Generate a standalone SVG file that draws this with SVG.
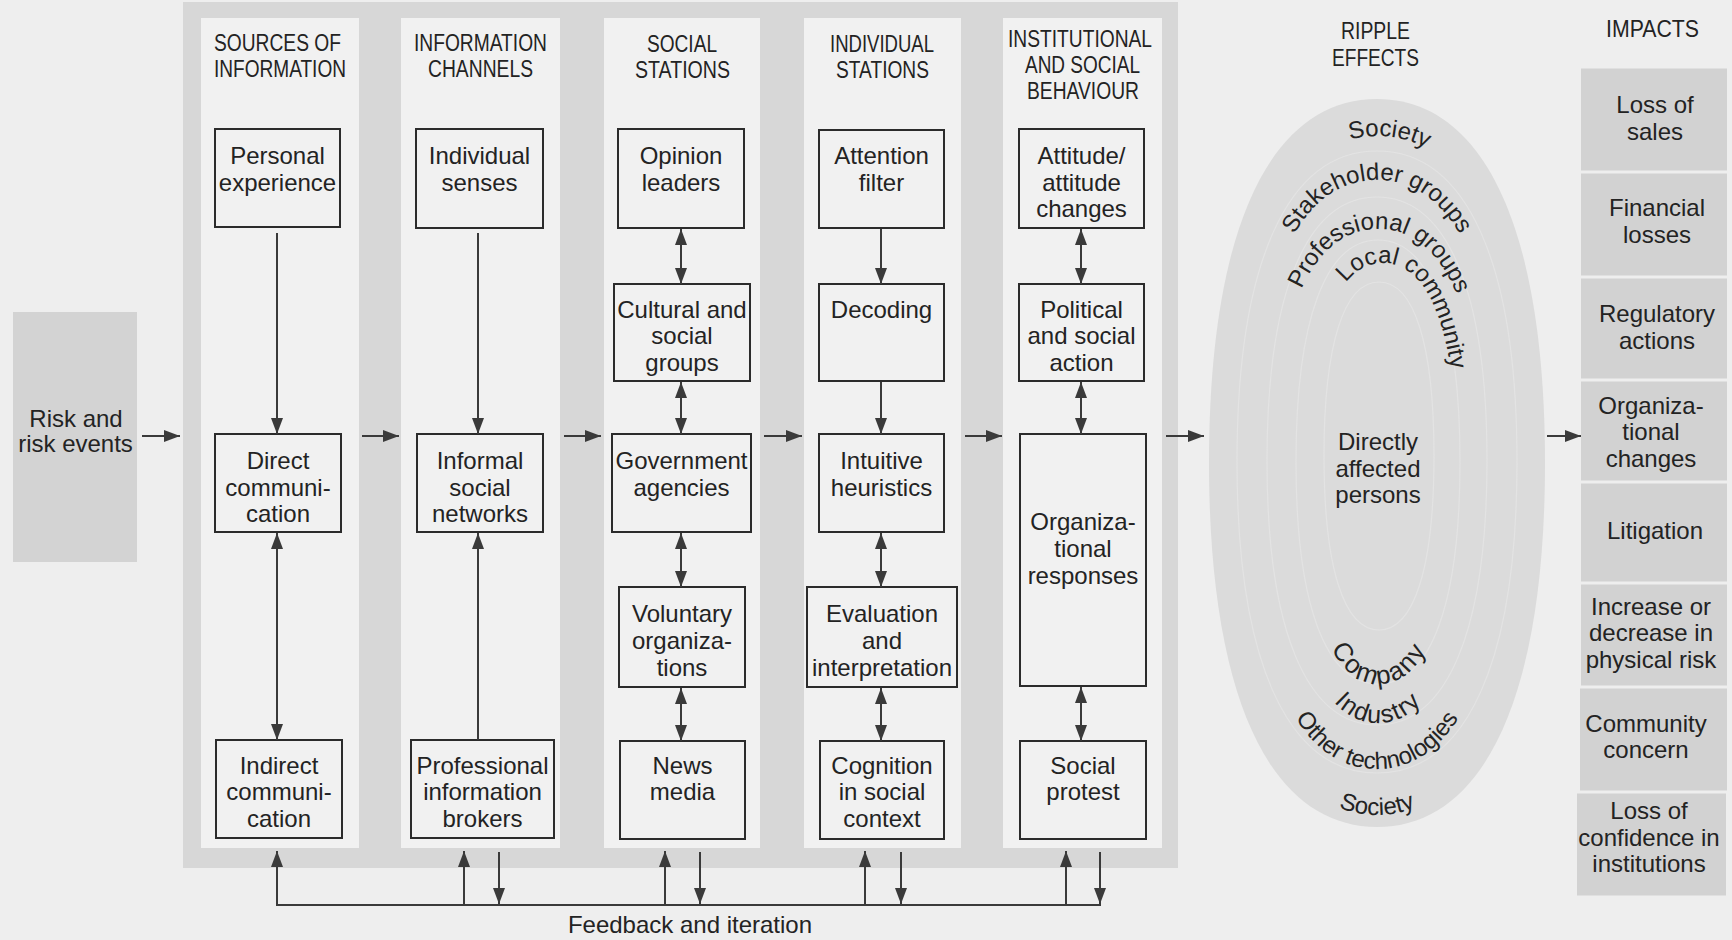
<svg xmlns="http://www.w3.org/2000/svg" xmlns:xlink="http://www.w3.org/1999/xlink" width="1732" height="940" viewBox="0 0 1732 940">
  <style>
    text { font-family: "Liberation Sans", Arial, Helvetica, sans-serif; fill: #232323; }
    .t { font-size: 24px; text-anchor: middle; }
    .h { font-size: 23px; text-anchor: middle; }
    .rt { font-size: 24px; }
    .box { fill: none; stroke: #2b2b2b; stroke-width: 2; }
    .conn { stroke: #3a3a3a; stroke-width: 2; fill: none; }
    .one { marker-end: url(#ah); }
    .two { marker-start: url(#ah); marker-end: url(#ah); }
    .ring { fill: none; stroke: #e3e3e3; stroke-width: 1.2; }
    .imp { fill: #d2d2d2; }
  </style>
  <defs>
    <marker id="ah" markerUnits="userSpaceOnUse" viewBox="0 0 16 12" markerWidth="16" markerHeight="12" refX="16" refY="6" orient="auto-start-reverse">
      <path d="M0,0 L16,6 L0,12 z" fill="#3a3a3a"/>
    </marker>
    <!-- baselines for the curved ring labels (rounded, slightly squarish ovals) -->
    <path id="p-soc-top" d="M1227,463 C1227,253.7 1281,136 1377,136 C1473,136 1527,253.7 1527,463"/>
    <path id="p-stake" d="M1252,463 C1252,281.9 1297,180 1377,180 C1457,180 1502,281.9 1502,463"/>
    <path id="p-prof" d="M1274,463 C1274,313.9 1311.5,229 1378,229 C1444.5,229 1482,313.9 1482,463"/>
    <path id="p-local" d="M1309,463 C1309,336.3 1335.6,263 1383,263 C1430.4,263 1457,336.3 1457,463"/>
    <path id="p-company" d="M1301,463 C1301,603.8 1329.1,684 1379,684 C1428.9,684 1457,603.8 1457,463"/>
    <path id="p-industry" d="M1283,463 C1283,629.4 1317.2,723 1378,723 C1438.8,723 1473,629.4 1473,463"/>
    <path id="p-other" d="M1247,463 C1247,658.8 1293.8,769 1377,769 C1460.2,769 1507,658.8 1507,463"/>
    <path id="p-soc-bot" d="M1227,463 C1227,688.3 1281,815 1377,815 C1473,815 1527,688.3 1527,463"/>
  </defs>

  <!-- page -->
  <rect x="0" y="0" width="1732" height="940" fill="#eeeeee"/>

  <!-- grey frame with the five column strips -->
  <g id="stage-panel">
    <rect x="183" y="2" width="995" height="866" fill="#d7d7d7"/>
    <rect x="201" y="18" width="158" height="830" fill="#f1f1f1"/>
    <rect x="401" y="18" width="159" height="830" fill="#f1f1f1"/>
    <rect x="604" y="18" width="156" height="830" fill="#f1f1f1"/>
    <rect x="804" y="18" width="157" height="830" fill="#f1f1f1"/>
    <rect x="1003" y="18" width="159" height="830" fill="#f1f1f1"/>
  </g>

  <!-- column headings -->
  <g id="headings">
    <text class="h" x="277.5" y="51" textLength="127" lengthAdjust="spacingAndGlyphs">SOURCES OF</text>
    <text class="h" x="280" y="77" textLength="132" lengthAdjust="spacingAndGlyphs">INFORMATION</text>
    <text class="h" x="480.5" y="51" textLength="133" lengthAdjust="spacingAndGlyphs">INFORMATION</text>
    <text class="h" x="480.5" y="77" textLength="105" lengthAdjust="spacingAndGlyphs">CHANNELS</text>
    <text class="h" x="682" y="52" textLength="70" lengthAdjust="spacingAndGlyphs">SOCIAL</text>
    <text class="h" x="682.5" y="78" textLength="95" lengthAdjust="spacingAndGlyphs">STATIONS</text>
    <text class="h" x="882" y="52" textLength="104" lengthAdjust="spacingAndGlyphs">INDIVIDUAL</text>
    <text class="h" x="882.5" y="78" textLength="93" lengthAdjust="spacingAndGlyphs">STATIONS</text>
    <text class="h" x="1080" y="47" textLength="144" lengthAdjust="spacingAndGlyphs">INSTITUTIONAL</text>
    <text class="h" x="1082.5" y="73" textLength="115" lengthAdjust="spacingAndGlyphs">AND SOCIAL</text>
    <text class="h" x="1083" y="99" textLength="112" lengthAdjust="spacingAndGlyphs">BEHAVIOUR</text>
    <text class="h" x="1375.5" y="39" textLength="69" lengthAdjust="spacingAndGlyphs">RIPPLE</text>
    <text class="h" x="1375.5" y="66" textLength="87" lengthAdjust="spacingAndGlyphs">EFFECTS</text>
    <text class="h" x="1652.5" y="37" textLength="93" lengthAdjust="spacingAndGlyphs">IMPACTS</text>
  </g>

  <g id="risk-events">
    <rect x="13" y="312" width="124" height="250" fill="#d3d3d3"/>
    <text class="t" x="76" y="427">Risk and</text>
    <text class="t" x="75.5" y="452">risk events</text>
  </g>

  <!-- sources of information -->
  <g id="personal-experience">
    <rect class="box" x="215" y="129" width="125" height="98"/>
    <text class="t" x="277.5" y="164">Personal</text>
    <text class="t" x="277.5" y="191">experience</text>
  </g>
  <g id="direct-communication">
    <rect class="box" x="215" y="434" width="126" height="98"/>
    <text class="t" x="278" y="469">Direct</text>
    <text class="t" x="278" y="496">communi-</text>
    <text class="t" x="278" y="522">cation</text>
  </g>
  <g id="indirect-communication">
    <rect class="box" x="216" y="740" width="126" height="98"/>
    <text class="t" x="279" y="774">Indirect</text>
    <text class="t" x="279" y="800">communi-</text>
    <text class="t" x="279" y="827">cation</text>
  </g>

  <!-- information channels -->
  <g id="individual-senses">
    <rect class="box" x="416" y="129" width="127" height="99"/>
    <text class="t" x="479.5" y="164">Individual</text>
    <text class="t" x="479.5" y="191">senses</text>
  </g>
  <g id="informal-social-networks">
    <rect class="box" x="417" y="434" width="126" height="98"/>
    <text class="t" x="480" y="469">Informal</text>
    <text class="t" x="480" y="496">social</text>
    <text class="t" x="480" y="522">networks</text>
  </g>
  <g id="professional-information-brokers">
    <rect class="box" x="411" y="740" width="143" height="98"/>
    <text class="t" x="482.5" y="774">Professional</text>
    <text class="t" x="482.5" y="800">information</text>
    <text class="t" x="482.5" y="827">brokers</text>
  </g>

  <!-- social stations -->
  <g id="opinion-leaders">
    <rect class="box" x="618" y="129" width="126" height="99"/>
    <text class="t" x="681" y="164">Opinion</text>
    <text class="t" x="681" y="191">leaders</text>
  </g>
  <g id="cultural-social-groups">
    <rect class="box" x="614" y="284" width="136" height="97"/>
    <text class="t" x="682" y="318">Cultural and</text>
    <text class="t" x="682" y="344">social</text>
    <text class="t" x="682" y="371">groups</text>
  </g>
  <g id="government-agencies">
    <rect class="box" x="612" y="434" width="139" height="98"/>
    <text class="t" x="681.5" y="469">Government</text>
    <text class="t" x="681.5" y="496">agencies</text>
  </g>
  <g id="voluntary-organizations">
    <rect class="box" x="619" y="587" width="126" height="100"/>
    <text class="t" x="682" y="622">Voluntary</text>
    <text class="t" x="682" y="649">organiza-</text>
    <text class="t" x="682" y="676">tions</text>
  </g>
  <g id="news-media">
    <rect class="box" x="620" y="741" width="125" height="98"/>
    <text class="t" x="682.5" y="774">News</text>
    <text class="t" x="682.5" y="800">media</text>
  </g>

  <!-- individual stations -->
  <g id="attention-filter">
    <rect class="box" x="819" y="130" width="125" height="98"/>
    <text class="t" x="881.5" y="164">Attention</text>
    <text class="t" x="881.5" y="191">filter</text>
  </g>
  <g id="decoding">
    <rect class="box" x="819" y="284" width="125" height="97"/>
    <text class="t" x="881.5" y="318">Decoding</text>
  </g>
  <g id="intuitive-heuristics">
    <rect class="box" x="819" y="434" width="125" height="98"/>
    <text class="t" x="881.5" y="469">Intuitive</text>
    <text class="t" x="881.5" y="496">heuristics</text>
  </g>
  <g id="evaluation-interpretation">
    <rect class="box" x="807" y="587" width="150" height="100"/>
    <text class="t" x="882" y="622">Evaluation</text>
    <text class="t" x="882" y="649">and</text>
    <text class="t" x="882" y="676">interpretation</text>
  </g>
  <g id="cognition-social-context">
    <rect class="box" x="820" y="741" width="124" height="98"/>
    <text class="t" x="882" y="774">Cognition</text>
    <text class="t" x="882" y="800">in social</text>
    <text class="t" x="882" y="827">context</text>
  </g>

  <!-- institutional and social behaviour -->
  <g id="attitude-changes">
    <rect class="box" x="1019" y="129" width="125" height="99"/>
    <text class="t" x="1081.5" y="164">Attitude/</text>
    <text class="t" x="1081.5" y="191">attitude</text>
    <text class="t" x="1081.5" y="217">changes</text>
  </g>
  <g id="political-social-action">
    <rect class="box" x="1019" y="284" width="125" height="97"/>
    <text class="t" x="1081.5" y="318">Political</text>
    <text class="t" x="1081.5" y="344">and social</text>
    <text class="t" x="1081.5" y="371">action</text>
  </g>
  <g id="organizational-responses">
    <rect class="box" x="1020" y="434" width="126" height="252"/>
    <text class="t" x="1083" y="530">Organiza-</text>
    <text class="t" x="1083" y="557">tional</text>
    <text class="t" x="1083" y="584">responses</text>
  </g>
  <g id="social-protest">
    <rect class="box" x="1020" y="741" width="126" height="98"/>
    <text class="t" x="1083" y="774">Social</text>
    <text class="t" x="1083" y="800">protest</text>
  </g>

  <!-- ripple effects: nested rings -->
  <g id="ripple-effects">
    <path fill="#dbdbdb" d="M1209,463 C1209,230 1269.5,99 1377,99 C1484.5,99 1545,230 1545,463 C1545,696 1484.5,827 1377,827 C1269.5,827 1209,696 1209,463 Z"/>
    <path class="ring" d="M1237,462 C1237,263 1287.4,151 1377,151 C1466.6,151 1517,263 1517,462 C1517,661 1466.6,773 1377,773 C1287.4,773 1237,661 1237,462 Z"/>
    <path class="ring" d="M1267,461 C1267,292 1306.6,197 1377,197 C1447.4,197 1487,292 1487,461 C1487,630 1447.4,725 1377,725 C1306.6,725 1267,630 1267,461 Z"/>
    <path class="ring" d="M1296,462 C1296,320 1325.5,240 1378,240 C1430.5,240 1460,320 1460,462 C1460,604 1430.5,684 1378,684 C1325.5,684 1296,604 1296,462 Z"/>
    <path class="ring" d="M1324,456 C1324,344.6 1343.8,282 1379,282 C1414.2,282 1434,344.6 1434,456 C1434,567.4 1414.2,630 1379,630 C1343.8,630 1324,567.4 1324,456 Z"/>
    <text class="rt" text-anchor="middle"><textPath href="#p-soc-top" startOffset="51.5%">Society</textPath></text>
    <text class="rt" text-anchor="middle"><textPath href="#p-stake" startOffset="50%">Stakeholder groups</textPath></text>
    <text class="rt" text-anchor="middle"><textPath href="#p-prof" startOffset="50.5%">Professional groups</textPath></text>
    <text class="rt" text-anchor="start"><textPath href="#p-local" startOffset="40.5%">Local community</textPath></text>
    <text class="t" x="1378" y="450">Directly</text>
    <text class="t" x="1378" y="477">affected</text>
    <text class="t" x="1378" y="503">persons</text>
    <text class="rt" text-anchor="middle" letter-spacing="2" style="font-size:26px"><textPath href="#p-company" startOffset="50%">Company</textPath></text>
    <text class="rt" text-anchor="middle" letter-spacing="1.5" style="font-size:25px"><textPath href="#p-industry" startOffset="50%">Industry</textPath></text>
    <text class="rt" text-anchor="middle"><textPath href="#p-other" startOffset="50%">Other technologies</textPath></text>
    <text class="rt" text-anchor="middle"><textPath href="#p-soc-bot" startOffset="50%">Society</textPath></text>
  </g>

  <!-- impacts -->
  <g id="impacts">
    <g id="impact-loss-of-sales">
      <rect class="imp" x="1581" y="68.5" width="146" height="102"/>
      <text class="t" x="1655" y="113">Loss of</text>
      <text class="t" x="1655" y="140">sales</text>
    </g>
    <g id="impact-financial-losses">
      <rect class="imp" x="1581" y="173.5" width="146" height="102"/>
      <text class="t" x="1657" y="216">Financial</text>
      <text class="t" x="1657" y="243">losses</text>
    </g>
    <g id="impact-regulatory-actions">
      <rect class="imp" x="1581" y="278.5" width="146" height="100"/>
      <text class="t" x="1657" y="322">Regulatory</text>
      <text class="t" x="1657" y="349">actions</text>
    </g>
    <g id="impact-organizational-changes">
      <rect class="imp" x="1581" y="381.5" width="146" height="99"/>
      <text class="t" x="1651" y="414">Organiza-</text>
      <text class="t" x="1651" y="440">tional</text>
      <text class="t" x="1651" y="467">changes</text>
    </g>
    <g id="impact-litigation">
      <rect class="imp" x="1581" y="483.5" width="146" height="98"/>
      <text class="t" x="1655" y="539">Litigation</text>
    </g>
    <g id="impact-physical-risk">
      <rect class="imp" x="1581" y="584.5" width="146" height="101"/>
      <text class="t" x="1651" y="615">Increase or</text>
      <text class="t" x="1651" y="641">decrease in</text>
      <text class="t" x="1651" y="668">physical risk</text>
    </g>
    <g id="impact-community-concern">
      <rect class="imp" x="1580" y="688.5" width="147" height="102"/>
      <text class="t" x="1646" y="732">Community</text>
      <text class="t" x="1646" y="758">concern</text>
    </g>
    <g id="impact-loss-of-confidence">
      <rect class="imp" x="1577" y="793.5" width="149" height="102"/>
      <text class="t" x="1649" y="819">Loss of</text>
      <text class="t" x="1649" y="846">confidence in</text>
      <text class="t" x="1649" y="872">institutions</text>
    </g>
  </g>

  <g id="connectors">
    <!-- main flow, left to right -->
    <line class="conn one" x1="142" y1="436" x2="180" y2="436"/>
    <line class="conn one" x1="362" y1="436" x2="399" y2="436"/>
    <line class="conn one" x1="564" y1="436" x2="601" y2="436"/>
    <line class="conn one" x1="764" y1="436" x2="802" y2="436"/>
    <line class="conn one" x1="965" y1="436" x2="1002" y2="436"/>
    <line class="conn one" x1="1166" y1="436" x2="1204" y2="436"/>
    <line class="conn one" x1="1547" y1="436" x2="1581" y2="436"/>

    <!-- sources of information -->
    <line class="conn one" x1="277" y1="233" x2="277" y2="434"/>
    <line class="conn two" x1="277" y1="533" x2="277" y2="740"/>
    <!-- information channels -->
    <line class="conn one" x1="478" y1="233" x2="478" y2="434"/>
    <line class="conn one" x1="478" y1="740" x2="478" y2="533"/>
    <!-- social stations -->
    <line class="conn two" x1="681" y1="229" x2="681" y2="284"/>
    <line class="conn two" x1="681" y1="382" x2="681" y2="434"/>
    <line class="conn two" x1="681" y1="533" x2="681" y2="587"/>
    <line class="conn two" x1="681" y1="688" x2="681" y2="741"/>
    <!-- individual stations -->
    <line class="conn one" x1="881" y1="229" x2="881" y2="284"/>
    <line class="conn one" x1="881" y1="382" x2="881" y2="434"/>
    <line class="conn two" x1="881" y1="533" x2="881" y2="587"/>
    <line class="conn two" x1="881" y1="688" x2="881" y2="741"/>
    <!-- institutional and social behaviour -->
    <line class="conn two" x1="1081" y1="229" x2="1081" y2="284"/>
    <line class="conn two" x1="1081" y1="382" x2="1081" y2="434"/>
    <line class="conn two" x1="1081" y1="687" x2="1081" y2="741"/>

    <!-- feedback and iteration loop -->
    <line class="conn" x1="276" y1="905" x2="1101" y2="905"/>
    <line class="conn one" x1="277" y1="905" x2="277" y2="851"/>
    <line class="conn one" x1="464" y1="905" x2="464" y2="851"/>
    <line class="conn one" x1="499" y1="852" x2="499" y2="904"/>
    <line class="conn one" x1="665" y1="905" x2="665" y2="851"/>
    <line class="conn one" x1="700" y1="852" x2="700" y2="904"/>
    <line class="conn one" x1="865" y1="905" x2="865" y2="851"/>
    <line class="conn one" x1="901" y1="852" x2="901" y2="904"/>
    <line class="conn one" x1="1066" y1="905" x2="1066" y2="851"/>
    <line class="conn one" x1="1100" y1="852" x2="1100" y2="904"/>
  </g>
  <text class="t" x="690" y="933">Feedback and iteration</text>
</svg>
